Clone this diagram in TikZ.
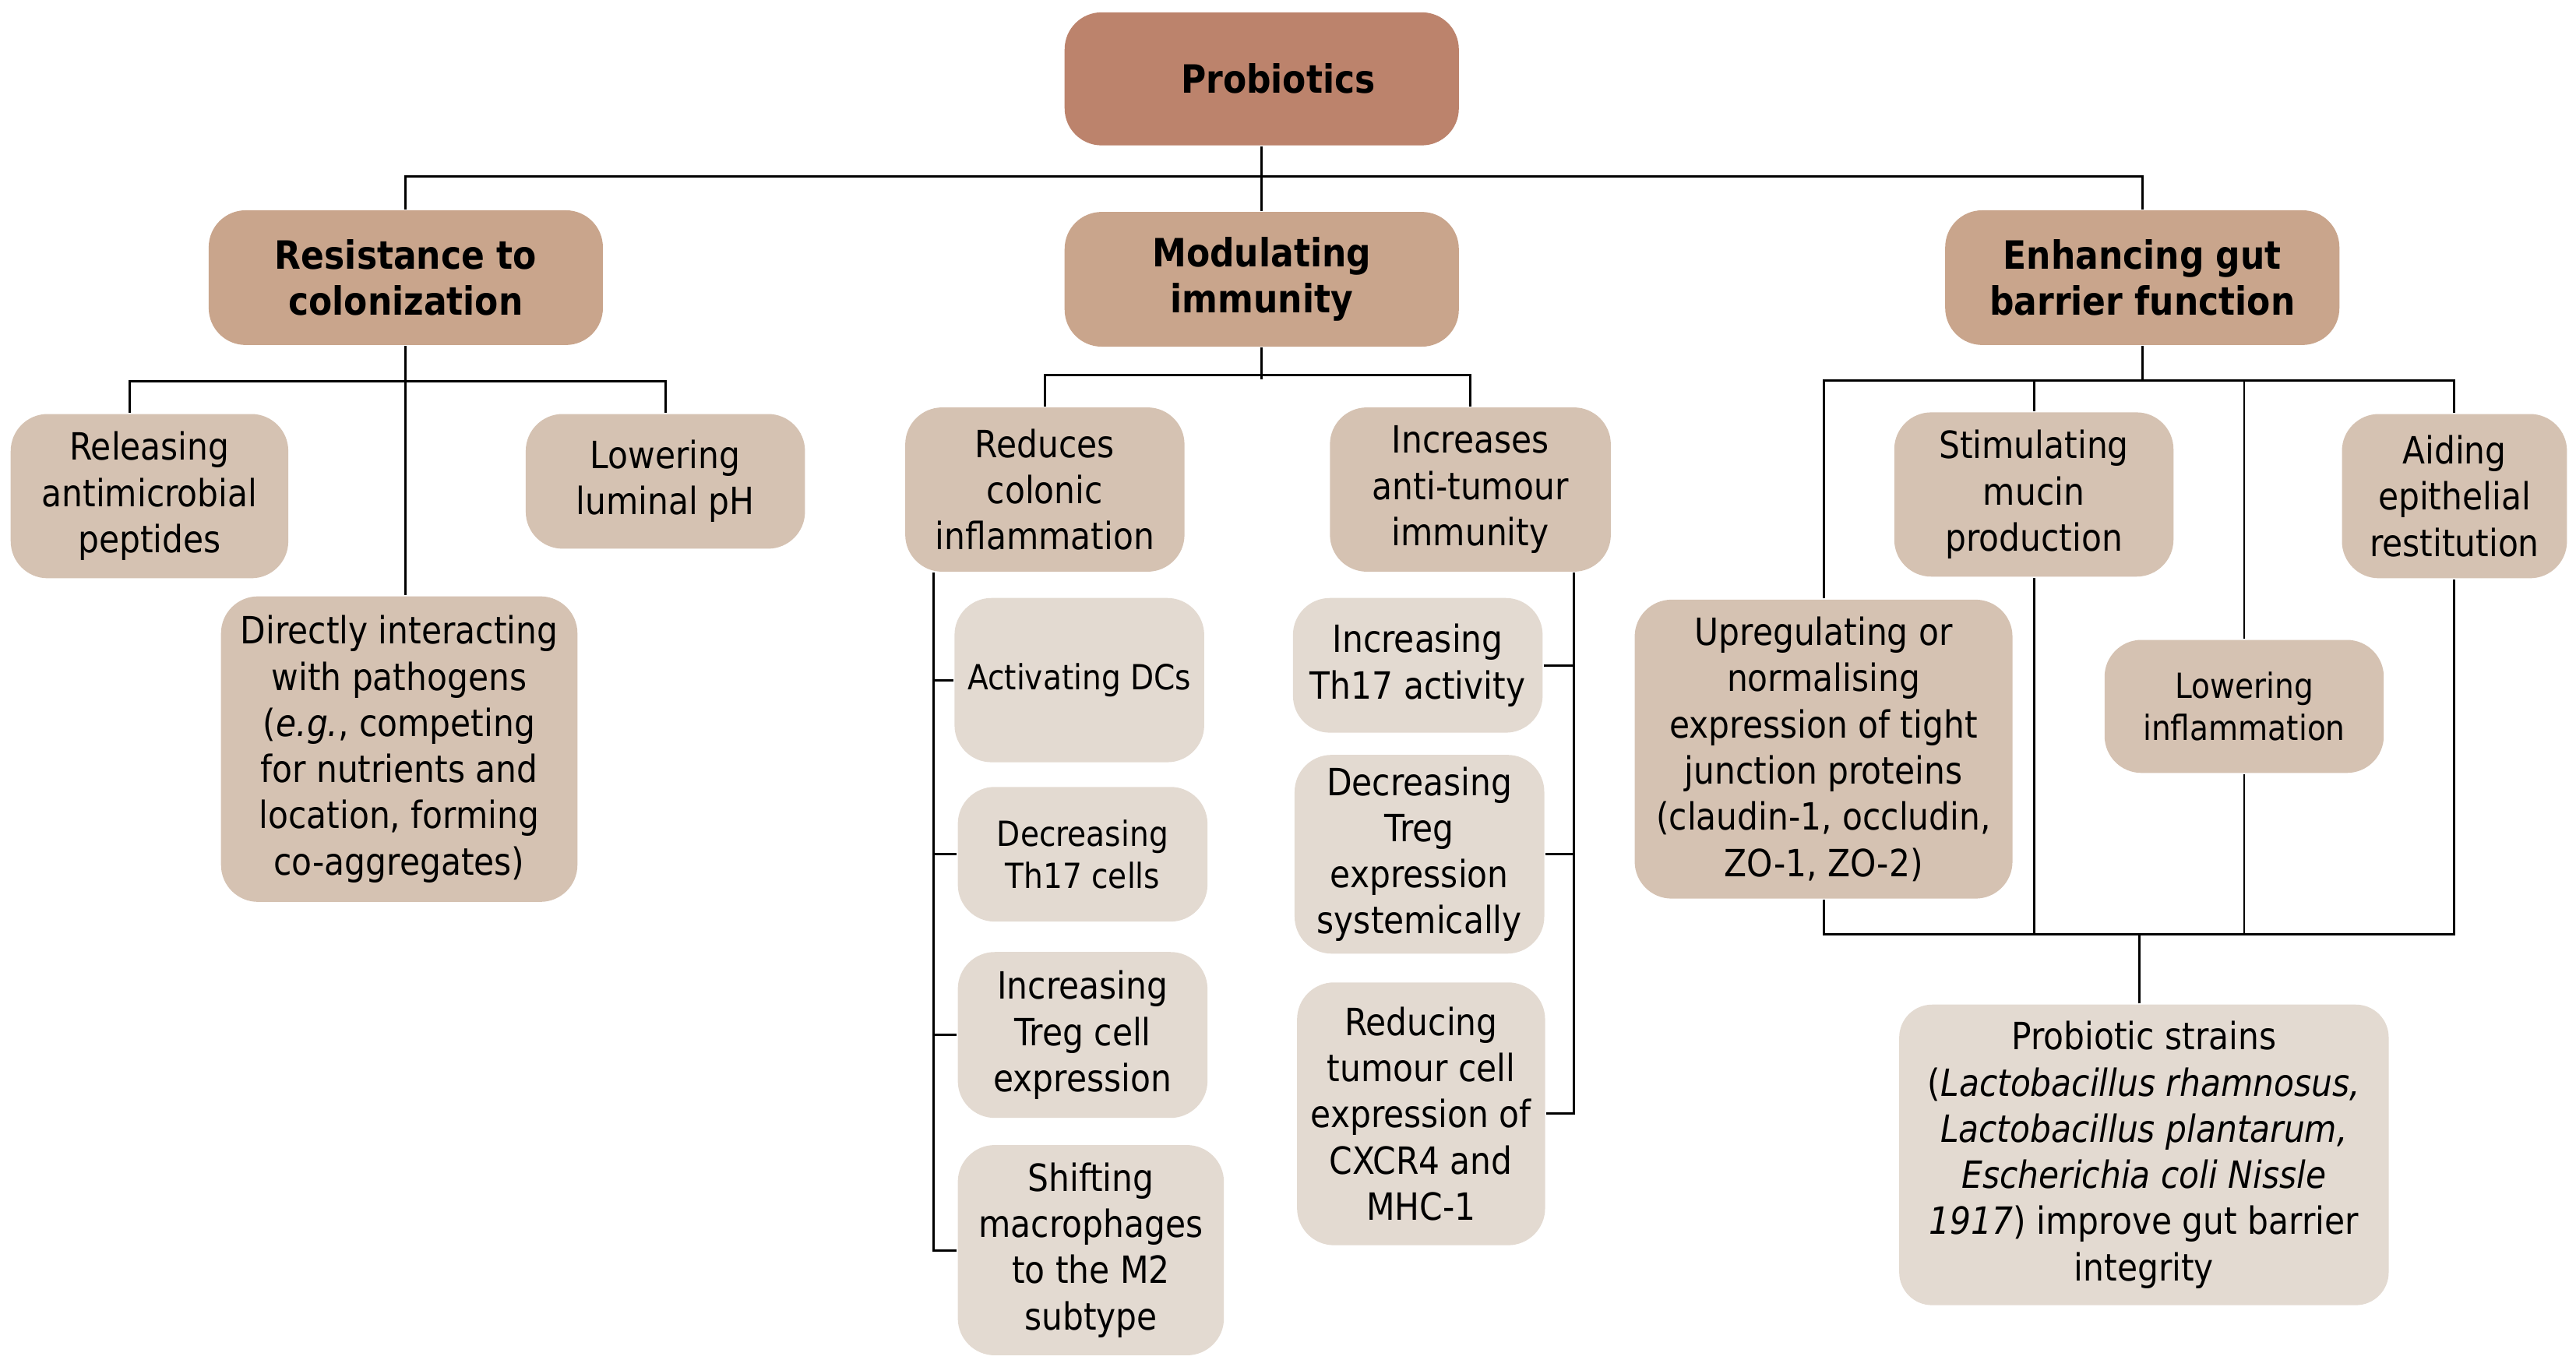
\documentclass[tikz,border=0pt]{standalone}
\usepackage{fontspec}
\setmainfont{DejaVu Sans}[FakeStretch=0.88]
\usepackage{tikz}
\usetikzlibrary{positioning}
\usetikzlibrary{calc}
\definecolor{topbrown}{HTML}{BC836C}
\definecolor{midbrown}{HTML}{C9A58C}
\definecolor{lowbrown}{HTML}{D5C2B2}
\definecolor{palebrown}{HTML}{E3DAD1}

\begin{document}
\begin{tikzpicture}[x=0.02cm,y=-0.02cm,line width=0.8pt,
  box/.style={rounded corners=0.45cm,inner sep=0pt,align=center,
    font=\fontsize{13}{16}\selectfont},
  head/.style={box,fill=midbrown,minimum width=4.8cm,minimum height=1.64cm,
    font=\fontsize{13.5}{16}\selectfont\bfseries},
  mid/.style={box,fill=lowbrown},
  pale/.style={box,fill=palebrown},
  small/.style={font=\fontsize{12}{14.5}\selectfont}]
\useasboundingbox (0,0) rectangle (1568,832);
%
\node[head,fill=topbrown,minimum height=1.62cm] (Pro) at (768,48) {\hspace{0.4cm}Probiotics};
\node[head] (Res) at (247,169) {Resistance to\\colonization};
\node[head] (Mod) at (768,170) {Modulating\\immunity};
\node[head] (Enh) at (1304,169) {Enhancing gut\\barrier function};
% resistance to colonization
\node[mid,minimum width=3.38cm,minimum height=2cm] (Rel) at (91,302) {Releasing\\antimicrobial\\peptides};
\node[mid,minimum width=3.4cm,minimum height=1.64cm] (LpH) at (405,293) {Lowering\\luminal pH};
\node[mid,minimum width=4.34cm,minimum height=3.72cm] (Dir) at (243,456)
  {Directly interacting\\with pathogens\\(\textit{e.g.},\ competing\\for nutrients and\\location, forming\\co-aggregates)};
% modulating immunity
\node[mid,minimum width=3.4cm,minimum height=2cm] (Red) at (636,298) {Reduces\\colonic\\inflammation};
\node[mid,minimum width=3.42cm,minimum height=2cm] (Inc) at (895,298) {Increases\\anti-tumour\\immunity};
\node[pale,small,minimum width=3.04cm,minimum height=2cm] (DCs) at (657,414) {Activating DCs};
\node[pale,small,minimum width=3.04cm,minimum height=1.64cm] (Th17) at (659,520) {Decreasing\\Th17 cells};
\node[pale,minimum width=3.04cm,minimum height=2.02cm] (Treg) at (659,630) {Increasing\\Treg cell\\expression};
\node[pale,minimum width=3.24cm,minimum height=2.56cm] (Mac) at (664,761) {Shifting\\macrophages\\to the M2\\subtype};
\node[pale,minimum width=3.04cm,minimum height=1.64cm] (Act) at (863,405) {Increasing\\Th17 activity};
\node[pale,minimum width=3.04cm,minimum height=2.42cm] (DTr) at (864,520) {Decreasing\\Treg\\expression\\systemically};
\node[pale,minimum width=3.02cm,minimum height=3.2cm] (CXC) at (865,678) {Reducing\\tumour cell\\expression of\\CXCR4 and\\MHC-1};
% gut barrier
\node[mid,minimum width=3.4cm,minimum height=2cm] (Muc) at (1238,301) {Stimulating\\mucin\\production};
\node[mid,minimum width=2.74cm,minimum height=2cm] (Aid) at (1494,302) {Aiding\\epithelial\\restitution};
\node[mid,minimum width=4.6cm,minimum height=3.64cm] (Tjp) at (1110,456)
  {Upregulating or\\normalising\\expression of tight\\junction proteins\\(claudin-1, occludin,\\ZO-1, ZO-2)};
\node[mid,small,minimum width=3.4cm,minimum height=1.62cm] (Inf) at (1366,430) {Lowering\\inflammation};
\node[pale,rounded corners=0.4cm,minimum width=5.96cm,minimum height=3.66cm] (Str) at (1305,703)
  {Probiotic strains\\(\textit{Lactobacillus rhamnosus,}\\\textit{Lactobacillus plantarum,}\\\textit{Escherichia coli Nissle}\\\textit{1917}) improve gut barrier\\integrity};
%
\draw (Pro.south) -- (Mod.north);
\draw (Res.north) -- ++(0,-20) -| (Enh.north);
%
\draw (Res.south) -- (Res.south |- Dir.north);
\draw ($(Rel.north)+(-12,0)$) -- ++(0,-19) -| (LpH.north);
%
\draw (Mod.south) -- ++(0,19);
\draw (Red.north) -- ++(0,-19) -| (Inc.north);
\coordinate (RedS) at ($(Red.south west)+(18,0)$);
\draw (RedS) |- (Mac.west);
\foreach \n in {DCs,Th17,Treg}
  \draw (\n.west) -- (\n.west -| RedS);
\coordinate (IncS) at ($(Inc.south east)+(-23,0)$);
\draw (IncS) |- (CXC.east);
\foreach \n in {Act,DTr}
  \draw (\n.east) -- (\n.east -| IncS);
%
\coordinate (EnhB) at ($(Enh.south)+(0,21)$);
\draw (Enh.south) -- (EnhB);
\draw (Tjp.north) -- (Tjp.north |- EnhB) -- (Aid.north |- EnhB) -- (Aid.north);
\draw (Muc.north) -- (Muc.north |- EnhB);
\draw (Inf.north) -- (Inf.north |- EnhB);
\coordinate (StrB) at ($(Str.north)+(-3,-42)$);
\draw (Str.north -| StrB) -- (StrB);
\draw (Tjp.south) -- (Tjp.south |- StrB) -- (Aid.south |- StrB) -- (Aid.south);
\draw (Muc.south) -- (Muc.south |- StrB);
\draw (Inf.south) -- (Inf.south |- StrB);
\end{tikzpicture}
\end{document}
